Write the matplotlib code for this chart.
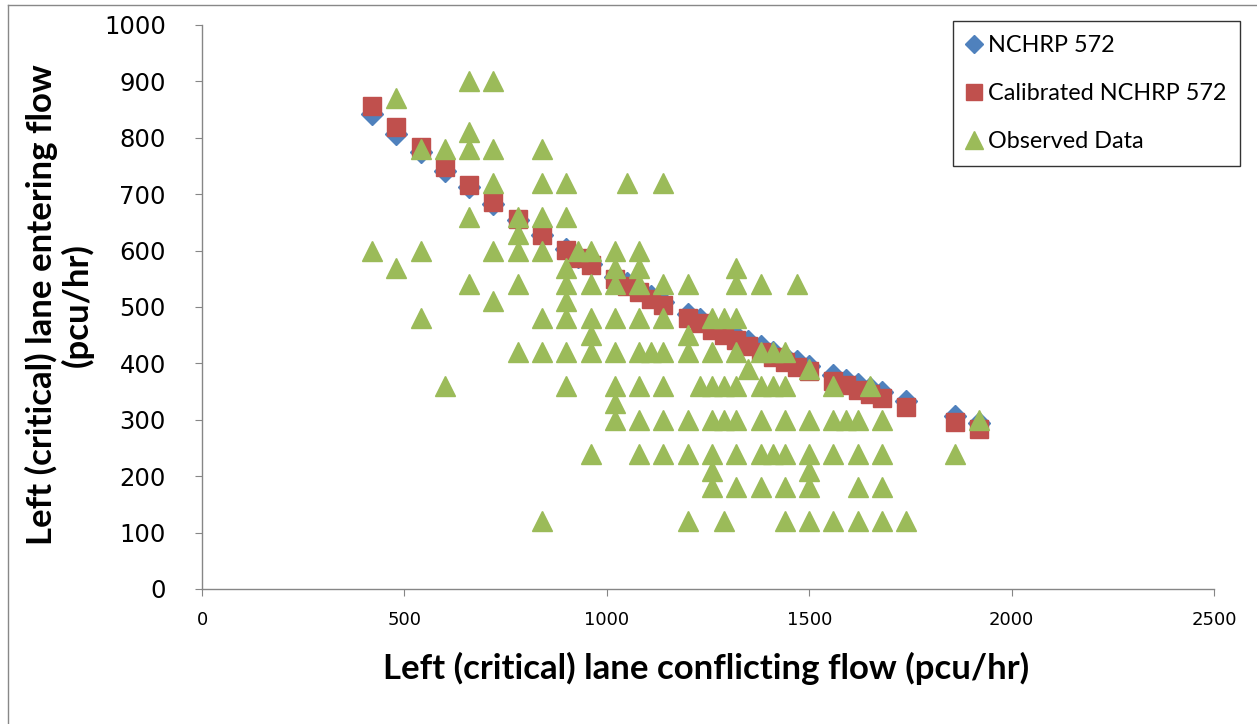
"""
Left (critical) lane entry capacity vs conflicting flow
=======================================================
Compares the NCHRP 572 capacity model, the calibrated NCHRP 572 model
and the observed entering flows for the left (critical) lane.
"""

import matplotlib
matplotlib.use("Agg")
import matplotlib.pyplot as plt
from matplotlib.lines import Line2D

# Observed data (pcu/hr), one line per entering-flow level
obs_conflicting = [
    660, 720,                                                        # 900
    480,                                                             # 870
    660,                                                             # 810
    540, 600, 660, 720, 840,                                         # 780
    720, 840, 900, 1050, 1140,                                       # 720
    660, 780, 840, 900,                                              # 660
    780,                                                             # 630
    420, 540, 720, 780, 840, 930, 960, 1020, 1080,                   # 600
    480, 900, 1020, 1080, 1320,                                      # 570
    660, 780, 900, 960, 1020, 1080, 1140, 1200, 1320, 1380, 1470,    # 540
    720, 900,                                                        # 510
    540, 840, 900, 960, 1020, 1080, 1140, 1260, 1290, 1320,          # 480
    960, 1200,                                                       # 450
    780, 840, 900, 960, 1020, 1080, 1110, 1140, 1200, 1260, 1320,
    1380, 1410, 1440,                                                # 420
    1350, 1500,                                                      # 390
    600, 900, 1020, 1080, 1140, 1230, 1260, 1290, 1320, 1380, 1410,
    1440, 1560, 1650,                                                # 360
    1020,                                                            # 330
    1020, 1080, 1140, 1200, 1260, 1290, 1320, 1380, 1440, 1500, 1560,
    1590, 1620, 1680, 1920,                                          # 300
    960, 1080, 1140, 1200, 1260, 1320, 1380, 1410, 1440, 1500, 1560,
    1620, 1680, 1860,                                                # 240
    1260, 1500,                                                      # 210
    1260, 1320, 1380, 1440, 1500, 1620, 1680,                        # 180
    840, 1200, 1290, 1440, 1500, 1560, 1620, 1680, 1740,             # 120
]
obs_entering = (
    [900] * 2 + [870] * 1 + [810] * 1 + [780] * 5 + [720] * 5 + [660] * 4
    + [630] * 1 + [600] * 9 + [570] * 5 + [540] * 11 + [510] * 2 + [480] * 10
    + [450] * 2 + [420] * 14 + [390] * 2 + [360] * 14 + [330] * 1 + [300] * 15
    + [240] * 14 + [210] * 2 + [180] * 7 + [120] * 9
)

# Model predictions at the observed conflicting flows (pcu/hr)
model_conflicting = [
    420, 480, 540, 600, 660, 720, 780, 840, 900, 930, 960, 1020, 1050,
    1080, 1110, 1140, 1200, 1230, 1260, 1290, 1320, 1350, 1380, 1410,
    1440, 1470, 1500, 1560, 1590, 1620, 1650, 1680, 1740, 1860, 1920,
]
nchrp_entering = [
    842, 807, 774, 742, 712, 683, 655, 628, 602, 589, 577, 553, 542,
    531, 520, 509, 488, 478, 468, 458, 449, 439, 430, 421,
    412, 404, 395, 379, 371, 364, 356, 349, 334, 307, 295,
]
calibrated_entering = [
    856, 819, 783, 749, 717, 686, 656, 628, 601, 587, 575, 550, 538,
    526, 514, 503, 481, 471, 460, 450, 441, 431, 421, 412,
    403, 394, 386, 369, 361, 353, 345, 338, 323, 296, 283,
]

X_TICKS = [0, 500, 1000, 1500, 2000, 2500]
Y_TICKS = [0, 100, 200, 300, 400, 500, 600, 700, 800, 900, 1000]

BLUE = "#4F81BD"
RED = "#C0504D"
GREEN = "#9BBB59"
AXIS_GREY = "#868686"

W, H = 1257, 724


def main():
    fig = plt.figure(figsize=(W / 100, H / 100), dpi=100)
    fig.patch.set_facecolor("white")

    # chart-area border (top and left edges visible in the original)
    fig.add_artist(Line2D([8 / W, 8 / W], [0, 1 - 5 / H], transform=fig.transFigure,
                          color="#888888", linewidth=1.0))
    fig.add_artist(Line2D([8 / W, 1], [1 - 5 / H, 1 - 5 / H], transform=fig.transFigure,
                          color="#888888", linewidth=1.0))

    ax = fig.add_axes([202 / W, (H - 589) / H, (1214 - 202) / W, (589 - 25) / H])

    ax.plot(model_conflicting, nchrp_entering, linestyle="none", marker="D",
            markersize=11, color=BLUE, label="NCHRP 572", zorder=3)
    ax.plot(model_conflicting, calibrated_entering, linestyle="none", marker="s",
            markersize=13, color=RED, label="Calibrated NCHRP 572", zorder=4)
    ax.plot(obs_conflicting, obs_entering, linestyle="none", marker="^",
            markersize=15, color=GREEN, label="Observed Data", zorder=5)

    ax.set_xlim(0, 2500)
    ax.set_ylim(0, 1000)
    ax.set_xticks(X_TICKS)
    ax.set_yticks(Y_TICKS)
    ax.tick_params(axis="x", labelsize=13, length=5, color=AXIS_GREY, pad=11)
    ax.tick_params(axis="y", labelsize=17.5, length=5, color=AXIS_GREY, pad=21)
    for lab in ax.get_xticklabels() + ax.get_yticklabels():
        lab.set_fontfamily("DejaVu Sans")

    for side in ("top", "right"):
        ax.spines[side].set_visible(False)
    for side in ("left", "bottom"):
        ax.spines[side].set_color(AXIS_GREY)
        ax.spines[side].set_linewidth(1.0)

    fig.text(706 / W, 1 - 668 / H, "Left (critical) lane conflicting flow (pcu/hr)",
             ha="center", va="center", fontsize=25, fontweight="bold", family="Lato")
    fig.text(59 / W, 1 - 305 / H, "Left (critical) lane entering flow\n(pcu/hr)",
             ha="center", va="center", rotation=90, fontsize=25, fontweight="bold",
             family="Lato", linespacing=1.1)

    leg = ax.legend(loc="upper right", bbox_to_anchor=(1240 / W, 1 - 21 / H),
                    bbox_transform=fig.transFigure, borderaxespad=0, frameon=True,
                    fancybox=False, prop={"family": "Lato", "size": 16.8},
                    handlelength=0.6, handletextpad=0.3, labelspacing=1.15,
                    borderpad=0.6, markerscale=0.85)
    leg.get_frame().set_edgecolor("black")
    leg.get_frame().set_linewidth(1.0)

    fig.savefig("out.png", dpi=100)
    plt.close(fig)


if __name__ == "__main__":
    main()
